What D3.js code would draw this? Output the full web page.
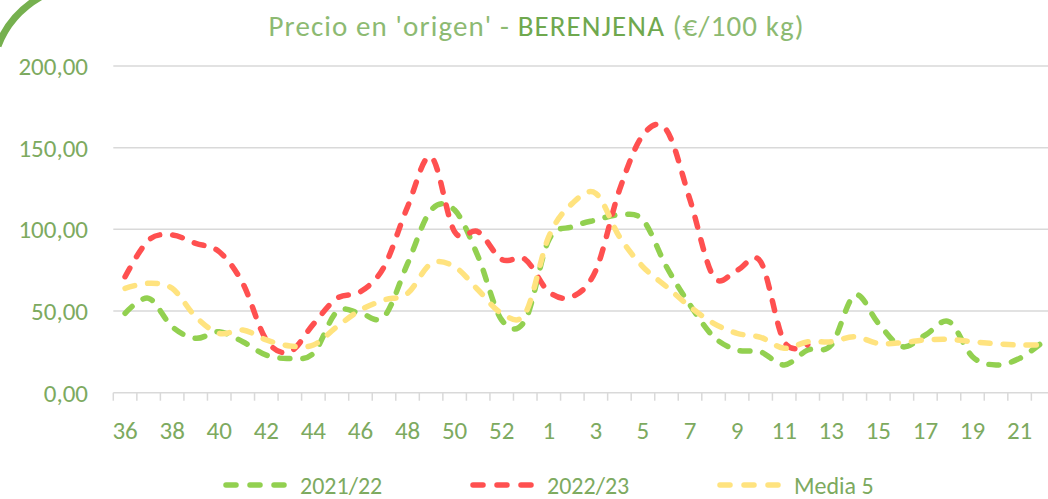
<!DOCTYPE html>
<html>
<head>
<meta charset="utf-8">
<script src="https://cdn.jsdelivr.net/npm/d3@7"></script>
<style>
  body { margin: 0; background: #fff; }
  svg { display: block; }
</style>
</head>
<body>
<svg id="chart" width="1048" height="499"></svg>
<script>
// week labels (season runs from week 36 to week 22 of next year)
var weeks = ["36","37","38","39","40","41","42","43","44","45","46","47","48","49","50","51","52","53",
             "1","2","3","4","5","6","7","8","9","10","11","12","13","14","15","16","17","18","19","20","21","22"];

var s2122 = [48.6,57.8,40.4,33.3,37.3,31.2,23,21,24.1,49.6,48.6,46.5,79,111.8,111.8,83.2,44.5,44.5,
             93.5,101.6,105.7,108.8,105.7,77.1,53.7,34.3,26.1,25,17,26.1,29.2,59.8,42.5,28.2,35.3,43.5,22,17,21,31.2];

var s2223 = [71,93.4,96.5,91.4,86.3,67,32.3,25,42,57.8,61.8,77,113.8,144.4,98.5,98.5,81.6,81.6,
             61.8,58.8,75,124,157.7,160.8,118,71,75,80.2,31.2,29.5,
             null,null,null,null,null,null,null,null,null,null];

var media5 = [63.9,67,63.9,46.5,36.3,38.4,32.3,28.6,29.2,40.4,50.6,56.7,60.8,79,77.1,62.9,48.6,48.6,
              95.5,115.9,122,95.5,77.1,64.9,52.6,42.5,36.3,33.9,27.2,31.2,31.2,34.3,30.2,30.6,32.3,32.7,31.2,30,29.2,29.2];

var yTicks = [0, 50, 100, 150, 200];

var seriesNames = ["2021/22", "2022/23", "Media 5"];
var seriesColors = ["#92D050", "#FF5050", "#FFE37F"];
var allSeries = [s2122, s2223, media5];

var txtGreen = "#7DAA5F";
var font = "Carlito, Lato, 'Liberation Sans', sans-serif";

//------------------------------------------------------------------------------
// Setup
//------------------------------------------------------------------------------
var svg = d3.select("#chart");

var x = d3.scaleBand()
    .domain(weeks)
    .range([113.3, 1054.9])
    .padding(0);

var y = d3.scaleLinear()
    .domain([0, 200])
    .range([392.7, 66]);

var loc = d3.formatLocale({decimal: ",", thousands: ".", grouping: [3], currency: ["", "€"]});
var fmt = loc.format(".2f");

// corner decoration
svg.append("path")
    .attr("d", "M-2,46 Q10,14 42,-4")
    .attr("fill", "none")
    .attr("stroke", "#76B04F")
    .attr("stroke-width", 7);

// title
var title = svg.append("text")
    .attr("x", 536)
    .attr("y", 36)
    .attr("text-anchor", "middle")
    .attr("textLength", 535)
    .attr("lengthAdjust", "spacing")
    .style("font-family", font)
    .style("font-size", "29px");
title.append("tspan").attr("fill", "#8DBA72").style("font-weight", 300).text("Precio en 'origen' - ");
title.append("tspan").attr("fill", "#6FA84E").style("font-weight", 400).text("BERENJENA");
title.append("tspan").attr("fill", "#8DBA72").style("font-weight", 300).text(" (€/100 kg)");

// gridlines
svg.append("g")
    .selectAll("line")
    .data(yTicks)
    .enter()
    .append("line")
    .attr("x1", x.range()[0])
    .attr("x2", x.range()[1])
    .attr("y1", d => y(d))
    .attr("y2", d => y(d))
    .attr("stroke", "#D9D9D9")
    .attr("stroke-width", 1.5);

// y labels
svg.append("g")
    .selectAll("text")
    .data(yTicks)
    .enter()
    .append("text")
    .attr("x", 88)
    .attr("y", d => y(d) + 9)
    .attr("text-anchor", "end")
    .attr("fill", txtGreen)
    .style("font-family", font)
    .style("font-size", "25px")
    .text(d => fmt(d));

// x tick marks between categories
var tickPos = weeks.map(w => x(w)).concat([x.range()[1]]);
svg.append("g")
    .selectAll("line")
    .data(tickPos)
    .enter()
    .append("line")
    .attr("x1", d => d)
    .attr("x2", d => d)
    .attr("y1", y(0))
    .attr("y2", y(0) + 8)
    .attr("stroke", "#D9D9D9")
    .attr("stroke-width", 1.5);

// x labels (every other week)
svg.append("g")
    .selectAll("text")
    .data(weeks.filter((w, i) => i % 2 == 0))
    .enter()
    .append("text")
    .attr("x", d => x(d) + x.bandwidth() / 2)
    .attr("y", 439)
    .attr("text-anchor", "middle")
    .attr("fill", txtGreen)
    .style("font-family", font)
    .style("font-size", "25px")
    .text(d => d);

// lines
var line = d3.line()
    .defined(d => d != null)
    .x((d, i) => x(weeks[i]) + x.bandwidth() / 2)
    .y(d => y(d))
    .curve(d3.curveCatmullRom.alpha(0));

svg.append("g")
    .selectAll("path")
    .data(allSeries)
    .enter()
    .append("path")
    .attr("d", d => line(d))
    .attr("fill", "none")
    .attr("stroke", (d, i) => seriesColors[i])
    .attr("stroke-width", 5.5)
    .attr("stroke-linecap", "round")
    .attr("stroke-dasharray", "10 13");

// legend
var legX = [223, 470, 717];
var leg = svg.append("g")
    .selectAll("g")
    .data(seriesNames)
    .enter()
    .append("g")
    .attr("transform", (d, i) => "translate(" + legX[i] + ",485)");

leg.append("line")
    .attr("x1", 3)
    .attr("x2", 61)
    .attr("y1", 0)
    .attr("y2", 0)
    .attr("stroke", (d, i) => seriesColors[i])
    .attr("stroke-width", 5.5)
    .attr("stroke-linecap", "round")
    .attr("stroke-dasharray", "10 14");

leg.append("text")
    .attr("x", 77)
    .attr("y", 9)
    .attr("fill", txtGreen)
    .style("font-family", font)
    .style("font-size", "24px")
    .text(d => d);
</script>
</body>
</html>
